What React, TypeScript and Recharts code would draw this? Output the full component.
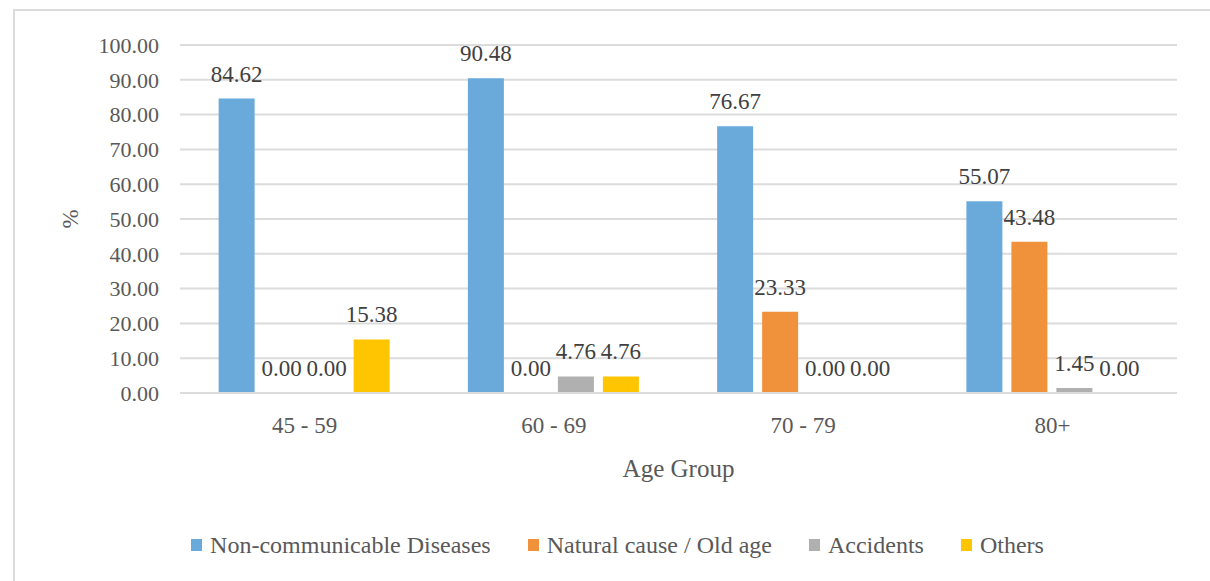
import React from 'react'
import { BarChart, Bar, XAxis, YAxis, CartesianGrid, Legend, LabelList, Label } from 'recharts'

const ageGroups = ['45 - 59', '60 - 69', '70 - 79', '80+']
const nonCommunicable = [84.62, 90.48, 76.67, 55.07]
const naturalCause = [0.0, 0.0, 23.33, 43.48]
const accidents = [0.0, 4.76, 0.0, 1.45]
const others = [15.38, 4.76, 0.0, 0.0]
const yTicks = [0, 10, 20, 30, 40, 50, 60, 70, 80, 90, 100]

const series = [
  { key: 'ncd', name: 'Non-communicable Diseases', color: '#6aaadb' },
  { key: 'natural', name: 'Natural cause / Old age', color: '#f0923b' },
  { key: 'accidents', name: 'Accidents', color: '#b0b0b0' },
  { key: 'others', name: 'Others', color: '#ffc600' },
]

const data = ageGroups.map((group, i) => ({
  group,
  ncd: nonCommunicable[i],
  natural: naturalCause[i],
  accidents: accidents[i],
  others: others[i],
}))

const FONT = 'Liberation Serif'
const TEXT = '#595959'

function LegendContent() {
  return (
    <div style={{ height: 30, display: 'flex', alignItems: 'center', justifyContent: 'center', width: 1235, fontFamily: FONT, fontSize: 24, color: TEXT }}>
      {series.map((s, i) => (
        <div key={s.key} style={{ display: 'flex', alignItems: 'center', marginRight: i < series.length - 1 ? 37 : 0 }}>
          <span style={{ width: 11, height: 12, background: s.color, display: 'inline-block', marginRight: 8 }} />
          <span>{s.name}</span>
        </div>
      ))}
    </div>
  )
}

export default function App() {
  return (
    <div style={{ position: 'absolute', left: 0, top: 0, width: 1210, height: 581, overflow: 'hidden', background: '#fff', fontFamily: FONT }}>
      <div style={{ position: 'absolute', left: 13, top: 9, width: 1300, height: 700, border: '2px solid #dcdcdc' }} />
      <div style={{ position: 'absolute', left: 0, top: 0 }}>
        <BarChart
          width={1210}
          height={581}
          data={data}
          margin={{ top: 45, right: 33, left: 0, bottom: 21 }}
          barCategoryGap="15.5%"
          barGap={9}
          style={{ fontFamily: FONT }}
        >
          <CartesianGrid vertical={false} stroke="#dcdcdc" strokeWidth={2} />
          <XAxis
            dataKey="group"
            height={137}
            tickLine={false}
            tickSize={0}
            tickMargin={24}
            axisLine={{ stroke: '#dcdcdc', strokeWidth: 2 }}
            tick={{ fill: TEXT, fontSize: 23, fontFamily: FONT }}
          >
            <Label value="Age Group" position="insideTop" offset={66} style={{ fill: TEXT, fontSize: 25, fontFamily: FONT }} />
          </XAxis>
          <YAxis
            width={180}
            domain={[0, 100]}
            ticks={yTicks}
            interval={0}
            tickLine={false}
            tickSize={0}
            tickMargin={21}
            axisLine={false}
            tickFormatter={(v: number) => v.toFixed(2)}
            tick={{ fill: TEXT, fontSize: 22, fontFamily: FONT }}
          >
            <Label
              content={({ viewBox }: any) => {
                const x = viewBox.x + 70
                const y = viewBox.y + viewBox.height / 2
                return (
                  <text x={x} y={y} transform={`rotate(-90 ${x} ${y})`} textAnchor="middle" dominantBaseline="central" fill={TEXT} fontSize={23} fontFamily={FONT}>
                    %
                  </text>
                )
              }}
            />
          </YAxis>
          <Legend verticalAlign="bottom" content={<LegendContent />} />
          {series.map(s => (
            <Bar key={s.key} dataKey={s.key} name={s.name} fill={s.color} minPointSize={0.01} isAnimationActive={false}>
              <LabelList
                dataKey={s.key}
                position="top"
                offset={17}
                formatter={(v: any) => Number(v).toFixed(2)}
                style={{ fill: '#404040', fontSize: 23, fontFamily: FONT }}
              />
            </Bar>
          ))}
        </BarChart>
      </div>
    </div>
  )
}
